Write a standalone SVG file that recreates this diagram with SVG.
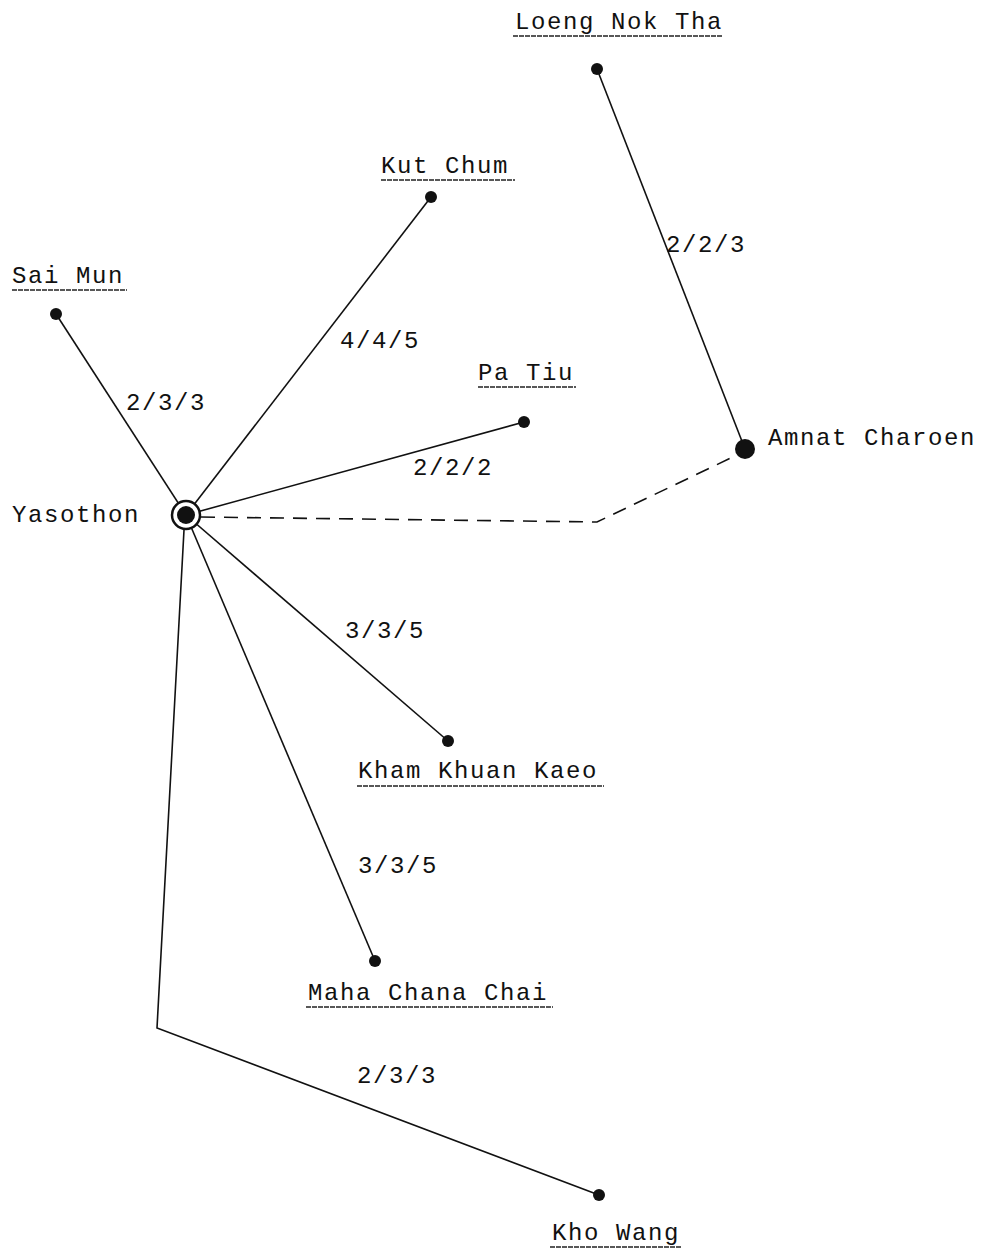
<svg xmlns="http://www.w3.org/2000/svg" width="989" height="1252" viewBox="0 0 989 1252">
<style>
text{font-family:"Liberation Mono","DejaVu Sans Mono",monospace;font-size:24px;fill:#111;letter-spacing:1.6px}
.e{stroke:#111;stroke-width:1.6;fill:none}
.d{stroke:#111;stroke-width:1.6;fill:none;stroke-dasharray:14 9}
.u{stroke:#222;stroke-width:1.5;stroke-dasharray:5 1}
.p{fill:#111}
</style>
<rect width="989" height="1252" fill="#fff"/>
<g id="connectors">
<line class="e" x1="186" y1="515" x2="56" y2="314"/>
<line class="e" x1="186" y1="515" x2="431" y2="197"/>
<line class="e" x1="186" y1="515" x2="524" y2="422"/>
<line class="e" x1="186" y1="515" x2="448" y2="741"/>
<line class="e" x1="186" y1="515" x2="375" y2="961"/>
<polyline class="e" points="184,530 157,1028 599,1195"/>
<line class="e" x1="597" y1="69" x2="745" y2="449"/>
<polyline class="d" points="201,517 597,522 735,456"/>
<text x="126" y="410">2/3/3</text>
<text x="340" y="348">4/4/5</text>
<text x="413" y="475">2/2/2</text>
<text x="666" y="252">2/2/3</text>
<text x="345" y="638">3/3/5</text>
<text x="358" y="873">3/3/5</text>
<text x="357" y="1083">2/3/3</text>
</g>
<g id="yasothon">
<circle cx="186" cy="515" r="14" fill="#fff" stroke="#111" stroke-width="2.5"/>
<circle class="p" cx="186" cy="515" r="9"/>
<text x="12" y="522">Yasothon</text>
</g>
<g id="sai-mun">
<circle class="p" cx="56" cy="314" r="6"/>
<text x="12" y="283">Sai Mun</text>
<line class="u" x1="12" y1="290" x2="127" y2="290"/>
</g>
<g id="kut-chum">
<circle class="p" cx="431" cy="197" r="6"/>
<text x="381" y="173">Kut Chum</text>
<line class="u" x1="381" y1="180" x2="515" y2="180"/>
</g>
<g id="pa-tiu">
<circle class="p" cx="524" cy="422" r="6"/>
<text x="478" y="380">Pa Tiu</text>
<line class="u" x1="478" y1="387" x2="576" y2="387"/>
</g>
<g id="loeng-nok-tha">
<circle class="p" cx="597" cy="69" r="6"/>
<text x="515" y="29">Loeng Nok Tha</text>
<line class="u" x1="513" y1="36" x2="723" y2="36"/>
</g>
<g id="amnat-charoen">
<circle class="p" cx="745" cy="449" r="10"/>
<text x="768" y="445">Amnat Charoen</text>
</g>
<g id="kham-khuan-kaeo">
<circle class="p" cx="448" cy="741" r="6"/>
<text x="358" y="778">Kham Khuan Kaeo</text>
<line class="u" x1="357" y1="786" x2="604" y2="786"/>
</g>
<g id="maha-chana-chai">
<circle class="p" cx="375" cy="961" r="6"/>
<text x="308" y="1000">Maha Chana Chai</text>
<line class="u" x1="306" y1="1007" x2="553" y2="1007"/>
</g>
<g id="kho-wang">
<circle class="p" cx="599" cy="1195" r="6"/>
<text x="552" y="1240">Kho Wang</text>
<line class="u" x1="550" y1="1247" x2="681" y2="1247"/>
</g>
</svg>
